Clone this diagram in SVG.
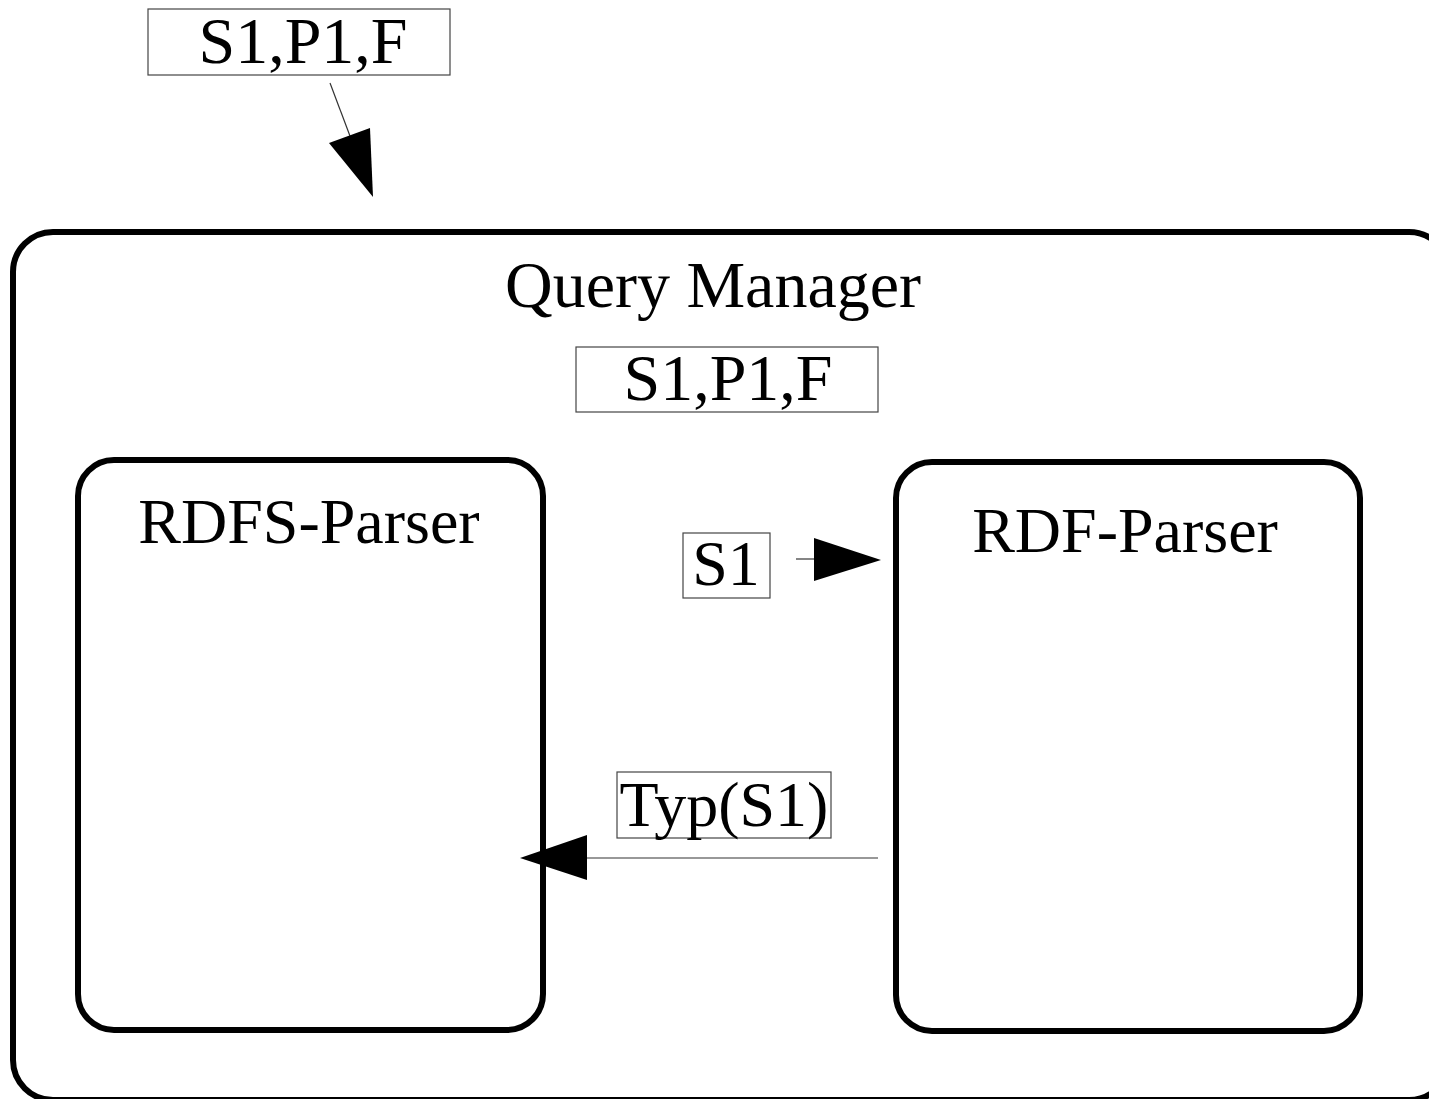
<svg xmlns="http://www.w3.org/2000/svg" width="1429" height="1099" viewBox="0 0 1429 1099">
<style>
.box{fill:none;stroke:#000;stroke-width:6}
.lbl{fill:#fff;stroke:#444;stroke-width:1.2}
.t{font-family:"Liberation Serif","Times New Roman",serif;fill:#000;text-anchor:middle}
.ln{stroke:#333;stroke-width:1.2;fill:none}
.ah{fill:#000;stroke:none}
</style>
<rect width="1429" height="1099" fill="#fff"/>
<g id="query-manager">
<rect class="box" x="13" y="232" width="1436" height="868" rx="40" ry="40"/>
<text class="t" x="713" y="307" font-size="66">Query Manager</text>
<rect class="lbl" x="576" y="347" width="302" height="65"/>
<text class="t" x="728" y="400" font-size="66">S1,P1,F</text>
</g>
<g id="rdfs-parser">
<rect class="box" x="78" y="460" width="465" height="570" rx="36" ry="36"/>
<text class="t" x="309" y="543" font-size="64">RDFS-Parser</text>
</g>
<g id="rdf-parser">
<rect class="box" x="896" y="462" width="464" height="569" rx="36" ry="36"/>
<text class="t" x="1125" y="552" font-size="64">RDF-Parser</text>
</g>
<g id="input-label">
<rect class="lbl" x="148" y="9" width="302" height="66"/>
<text class="t" x="303" y="63" font-size="66">S1,P1,F</text>
</g>
<g id="connectors">
<line class="ln" x1="330" y1="83" x2="350" y2="136"/>
<polygon class="ah" points="329,143 370,128 373,197"/>
<rect class="lbl" x="683" y="533" width="87" height="65"/>
<text class="t" x="726" y="585" font-size="64">S1</text>
<line class="ln" x1="796" y1="559" x2="815" y2="559"/>
<polygon class="ah" points="814,538 814,581 881,560"/>
<rect class="lbl" x="617" y="772" width="214" height="66"/>
<text class="t" x="724" y="826" font-size="64">Typ(S1)</text>
<line class="ln" x1="586" y1="858" x2="878" y2="858"/>
<polygon class="ah" points="587,835 587,880 520,858"/>
</g>
</svg>
